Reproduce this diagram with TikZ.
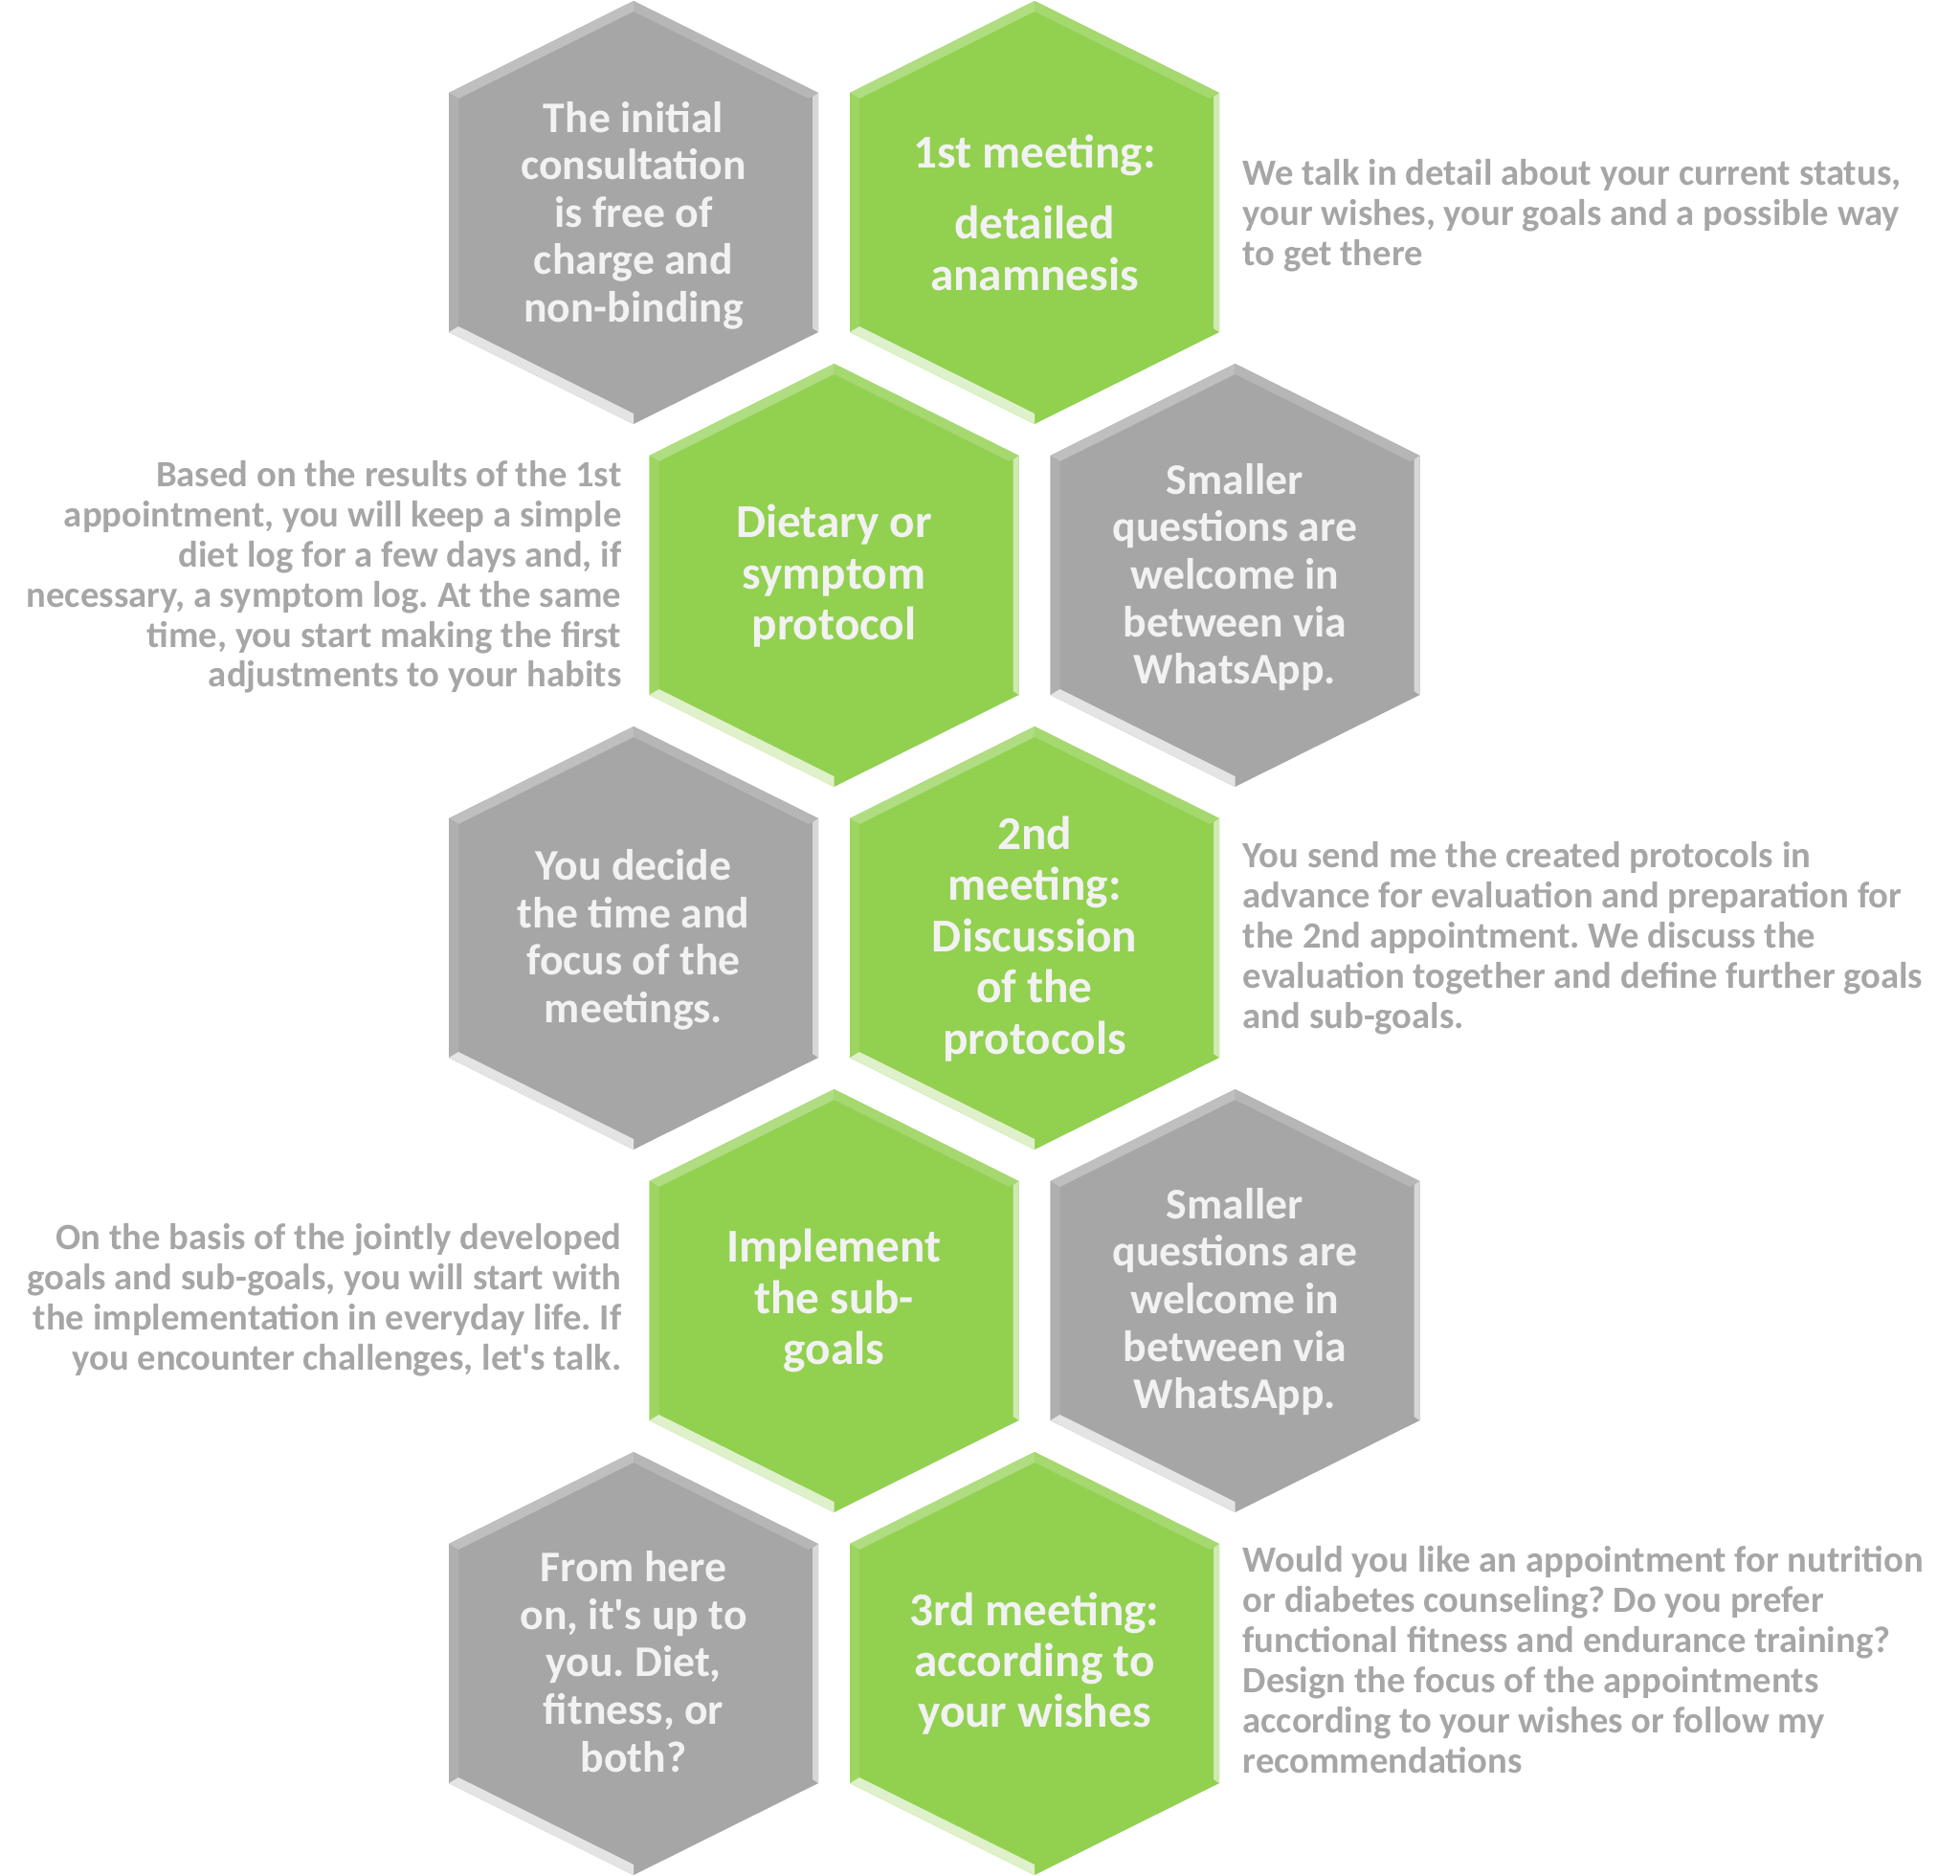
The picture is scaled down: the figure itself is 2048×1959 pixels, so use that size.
\documentclass[tikz,border=0pt]{standalone}
\usepackage{fontspec}
\setmainfont{Carlito}
\usepackage{xcolor}
\usepackage{tikz}
\usetikzlibrary{positioning}
\frenchspacing

\definecolor{cellgray}{HTML}{A6A6A6}
\definecolor{cellgreen}{HTML}{92D050}
\definecolor{celltext}{HTML}{F2F2F2}
\definecolor{notetext}{HTML}{A6A6A6}

% one bevelled hexagon, #1 centre, #2 fill colour
\newcommand{\hexcell}[2]{%
  \begin{scope}[shift={#1}]
    \fill[#2] (0,-221) -- (193,-125) -- (193,125) -- (0,221) -- (-193,125) -- (-193,-125) -- cycle;
    \fill[#2!72!white] (-193,-125) -- (0,-221) -- (0,-210) -- (-183,-119) -- cycle;
    \fill[#2!82!white] (0,-221) -- (193,-125) -- (183,-119) -- (0,-210) -- cycle;
    \fill[#2!45!white] (193,-125) -- (193,125) -- (187,121) -- (187,-121) -- cycle;
    \fill[#2!90!white] (-193,-125) -- (-183,-119) -- (-183,119) -- (-193,125) -- cycle;
    \fill[#2!30!white] (-193,125) -- (0,221) -- (0,210) -- (-183,119) -- cycle;
  \end{scope}}

\begin{document}
\begin{tikzpicture}[x=0.01cm, y=-0.01cm,
        celltxt/.style={font=\bfseries\fontsize{13}{14.1}\selectfont, text=celltext, align=center, inner sep=0pt},
        greentxt/.style={celltxt, font=\bfseries\fontsize{14}{15.2}\selectfont},
        notetxt/.style={font=\bfseries\fontsize{11}{11.9}\selectfont, text=notetext, inner sep=0pt},
    ]
    \useasboundingbox (0,0) rectangle (2048,1959);

    % honeycomb
    \hexcell{(662,222)}{cellgray}
    \hexcell{(1081,222)}{cellgreen}
    \hexcell{(871.5,601)}{cellgreen}
    \hexcell{(1290.5,601)}{cellgray}
    \hexcell{(662,980)}{cellgray}
    \hexcell{(1081,980)}{cellgreen}
    \hexcell{(871.5,1359)}{cellgreen}
    \hexcell{(1290.5,1359)}{cellgray}
    \hexcell{(662,1738)}{cellgray}
    \hexcell{(1081,1738)}{cellgreen}

    % cell texts
    \node[celltxt] (consult) at (662,225) {The initial\\consultation\\is free of\\charge and\\non-binding};
    \node[greentxt] (meet1) at (1081,222) {1st meeting:\\[6pt]detailed\\anamnesis};
    \node[greentxt] (protocol) at (871.5,602) {Dietary or\\symptom\\protocol};
    \node[celltxt] (chat1) at (1290.5,603) {Smaller\\questions are\\welcome in\\between via\\WhatsApp.};
    \node[celltxt] (decide) at (662,982) {You decide\\the time and\\focus of the\\meetings.};
    \node[greentxt] (meet2) at (1081,981) {2nd\\meeting:\\Discussion\\of the\\protocols};
    \node[greentxt] (subgoals) at (871.5,1359) {Implement\\the sub-\\goals};
    \node[celltxt] (chat2) at (1290.5,1360) {Smaller\\questions are\\welcome in\\between via\\WhatsApp.};
    \node[celltxt] (uptoyou) at (662,1736) {From here\\on, it\textquotesingle s up to\\you. Diet,\\fitness, or\\both?};
    \node[greentxt] (meet3) at (1081,1738) {3rd meeting:\\according to\\your wishes};

    % notes beside the cells
    \node[notetxt, anchor=west, align=left] (meet1note) at (1298,225)
        {We talk in detail about your current status,\\your wishes, your goals and a possible way\\to get there};
    \node[notetxt, anchor=east, align=right] (protocolnote) at (650,603)
        {Based on the results of the 1st\\appointment, you will keep a simple\\diet log for a few days and, if\\necessary, a symptom log. At the same\\time, you start making the first\\adjustments to your habits};
    \node[notetxt, anchor=west, align=left] (meet2note) at (1298,980)
        {You send me the created protocols in\\advance for evaluation and preparation for\\the 2nd appointment. We discuss the\\evaluation together and define further goals\\and sub-goals.};
    \node[notetxt, anchor=east, align=right] (subgoalsnote) at (650,1358)
        {On the basis of the jointly developed\\goals and sub-goals, you will start with\\the implementation in everyday life. If\\you encounter challenges, let\textquotesingle s talk.};
    \node[notetxt, anchor=west, align=left] (meet3note) at (1298,1734)
        {Would you like an appointment for nutrition\\or diabetes counseling? Do you prefer\\functional fitness and endurance training?\\Design the focus of the appointments\\according to your wishes or follow my\\recommendations};
\end{tikzpicture}
\end{document}
